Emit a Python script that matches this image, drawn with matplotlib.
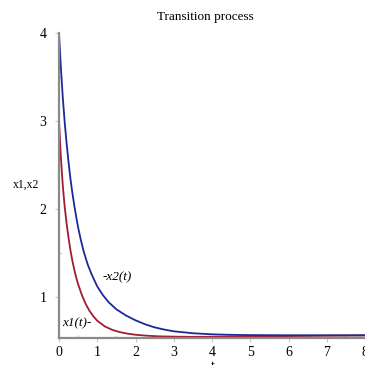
import matplotlib
matplotlib.use("Agg")
import matplotlib.pyplot as plt

plt.rcParams['font.family'] = ['Liberation Serif', 'DejaVu Serif']

# Time samples and state trajectories
t_x1 = [0, 0.05, 0.1, 0.15, 0.2, 0.25, 0.3, 0.35, 0.4, 0.45, 0.5, 0.6, 0.7, 0.8, 0.9,
        1.0, 1.2, 1.4, 1.6, 1.8, 2.0, 2.3, 2.6, 3.0, 3.5, 4.0, 5.0, 6.0, 7.0, 8.0]
x1 = [3.00, 2.58, 2.26, 2.02, 1.83, 1.67, 1.53, 1.41, 1.31, 1.22, 1.145, 1.02, 0.92, 0.84, 0.78,
      0.73, 0.665, 0.625, 0.60, 0.583, 0.571, 0.56, 0.553, 0.549, 0.547, 0.548, 0.552, 0.556, 0.56, 0.563]

t_x2 = [0, 0.05, 0.1, 0.15, 0.2, 0.25, 0.3, 0.35, 0.4, 0.45, 0.5, 0.57, 0.65, 0.75, 0.85,
        1.0, 1.15, 1.3, 1.5, 1.75, 2.0, 2.25, 2.5, 2.75, 3.0, 3.5, 4.0, 4.5, 5.0, 6.0, 7.0, 8.0]
x2 = [4.00, 3.60, 3.26, 2.98, 2.74, 2.53, 2.34, 2.18, 2.04, 1.91, 1.79, 1.65, 1.51, 1.37, 1.26,
      1.12, 1.02, 0.94, 0.86, 0.79, 0.735, 0.69, 0.655, 0.63, 0.61, 0.588, 0.576, 0.57, 0.567,
      0.565, 0.565, 0.565]

x_ticks = [0, 1, 2, 3, 4, 5, 6, 7, 8]
y_ticks = [1, 2, 3, 4]

fig = plt.figure(figsize=(3.65, 3.65), dpi=100)
ax = fig.add_axes([59 / 365, 1 - 338 / 365, 1 - 59 / 365, (338 - 33) / 365])

ax.plot(t_x1, x1, color='#a01c34', lw=1.3)
ax.plot(t_x2, x2, color='#1c2a96', lw=1.3)

ax.set_xlim(0, 8)
ax.set_ylim(0.534, 4.0)

for side in ['top', 'right']:
    ax.spines[side].set_visible(False)
for side in ['left', 'bottom']:
    ax.spines[side].set_color('#8a8a8a')
    ax.spines[side].set_linewidth(1.6)

ax.set_xticks(x_ticks)
ax.set_yticks(y_ticks)
ax.set_xticks([v + 0.5 for v in x_ticks[:-1]], minor=True)
ax.set_yticks([1.5, 2.5, 3.5], minor=True)
ax.tick_params(which='major', direction='out', length=3, width=0.8, color='#c8c8c8',
               labelsize=10)
ax.tick_params(axis='x', which='major', pad=3)
ax.tick_params(axis='y', which='major', pad=6)
ax.tick_params(which='minor', direction='in', length=2, width=0.8, color='#c8c8c8')

# curve labels
ax.text(1.15, 1.22, '-x2(t)', fontsize=9.5, style='italic', va='center', ha='left')
ax.text(0.07, 0.70, 'x1(t)-', fontsize=9.5, style='italic', va='center', ha='left')

fig.text(205 / 365, 1 - 17 / 365, 'Transition process', fontsize=9.5, ha='center', va='center')
fig.text(26 / 365, 1 - 185 / 365, 'x1,x2', fontsize=8.5, ha='center', va='center')
fig.text(213 / 365, 1 - 360 / 365, 't', fontsize=10, ha='center', va='top')

fig.savefig('out.png', dpi=100)
